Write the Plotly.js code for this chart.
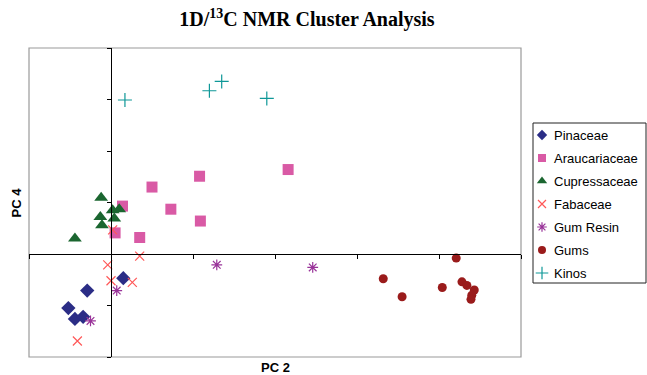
<!DOCTYPE html>
<html>
<head>
<meta charset="utf-8">
<script src="https://cdn.plot.ly/plotly-3.0.1.min.js"></script>
<style>html,body{margin:0;padding:0;background:#fff;}#chart{width:647px;height:375px;}</style>
</head>
<body>
<div id="chart"></div>
<script>
// PC 2 (x) and PC 4 (y) scores
const seriesNames = ["Pinaceae", "Araucariaceae", "Cupressaceae", "Fabaceae", "Gum Resin", "Gums", "Kinos"];

const pinaceaeX = [0.15, -0.29, -0.52, -0.44, -0.34];
const pinaceaeY = [-0.47, -0.71, -1.05, -1.26, -1.22];

const araucariaceaeX = [0.50, 1.08, 2.16, 0.14, 0.73, 1.09, 0.05, 0.35];
const araucariaceaeY = [1.30, 1.51, 1.64, 0.93, 0.87, 0.64, 0.41, 0.32];

const cupressaceaeX = [-0.12, 0.02, 0.10, -0.13, 0.04, -0.11, -0.44];
const cupressaceaeY = [1.09, 0.85, 0.87, 0.72, 0.69, 0.56, 0.30];

const fabaceaeX = [0.02, 0.35, -0.04, 0.00, 0.26, -0.41];
const fabaceaeY = [0.47, -0.04, -0.21, -0.52, -0.55, -1.69];

const gumResinX = [1.29, 2.46, 0.07, -0.25];
const gumResinY = [-0.21, -0.26, -0.71, -1.30];

const gumsX = [4.21, 3.32, 3.55, 4.04, 4.28, 4.34, 4.43, 4.40, 4.39];
const gumsY = [-0.08, -0.48, -0.83, -0.65, -0.54, -0.61, -0.70, -0.80, -0.88];

const kinosX = [0.17, 1.20, 1.35, 1.90];
const kinosY = [2.99, 3.17, 3.35, 3.02];

const xRange = [-1, 5];
const yRange = [-2, 4];

const styles = [
  {symbol: "diamond", color: "#2b2d86", size: 11, lsize: 8},
  {symbol: "square", color: "#d95aa5", size: 11, lsize: 8},
  {symbol: "triangle-up", color: "#1b6630", size: 12, lsize: 9},
  {symbol: "x-thin-open", color: "#ff5858", size: 9, lw: 1.2, lsize: 8},
  {symbol: "asterisk-open", color: "#993399", size: 9, lw: 1.2, lsize: 8},
  {symbol: "circle", color: "#9a1b1b", size: 9, lsize: 8},
  {symbol: "cross-thin-open", color: "#0f9898", size: 10, lw: 1.2, lsize: 9}
];
const xs = [pinaceaeX, araucariaceaeX, cupressaceaeX, fabaceaeX, gumResinX, gumsX, kinosX];
const ys = [pinaceaeY, araucariaceaeY, cupressaceaeY, fabaceaeY, gumResinY, gumsY, kinosY];

const W = 647, H = 375;
const mL = 29, mR = 0, mT = 48, mB = 18;
const pw = W - mL - mR, ph = H - mT - mB;
const plotRight = 521;
// legend box in pixels
const lgL = 533, lgR = 646, lgT = 123, lgB = 283;

const traces = [];
seriesNames.forEach((name, i) => {
  traces.push({
    type: "scatter", mode: "markers", name: name,
    x: xs[i], y: ys[i], showlegend: false, xaxis: "x", yaxis: "y",
    marker: {symbol: styles[i].symbol, color: styles[i].color, size: styles[i].size,
             line: {color: styles[i].color, width: styles[i].lw || 0}}
  });
});
// legend keys, drawn on a small pixel-scaled axis pair
const legendKeyX = 9, legendTextX = 19, legendRow0 = 12, legendRowStep = 23;
seriesNames.forEach((name, i) => {
  traces.push({
    type: "scatter", mode: "markers", name: name + " key",
    x: [legendKeyX], y: [legendRow0 + legendRowStep * i], showlegend: false, xaxis: "x2", yaxis: "y2",
    marker: {symbol: styles[i].symbol, color: styles[i].color, size: styles[i].lsize,
             line: {color: styles[i].color, width: styles[i].lw || 0}}
  });
});

const posX = (0 - xRange[0]) / (xRange[1] - xRange[0]) * ((plotRight - mL) / pw);
const posY = (0 - yRange[0]) / (yRange[1] - yRange[0]);

const font = {family: "Liberation Sans, Arial, sans-serif", size: 13, color: "#000"};

const annotations = [
  {text: "<b>PC 2</b>", xref: "paper", yref: "paper", x: ((mL + plotRight) / 2 - mL) / pw, y: -(367 - (H - mB)) / ph,
   yanchor: "middle", xanchor: "center", showarrow: false, font: font},
  {text: "<b>PC 4</b>", xref: "paper", yref: "paper", x: (16 - mL) / pw, y: 0.5, xanchor: "center", yanchor: "middle",
   textangle: -90, showarrow: false, font: font}
];
seriesNames.forEach((name, i) => {
  annotations.push({text: name, xref: "x2", yref: "y2", x: legendTextX, y: legendRow0 + legendRowStep * i,
    xanchor: "left", yanchor: "middle", showarrow: false,
    font: {family: "Liberation Sans, Arial, sans-serif", size: 13, color: "#000"}});
});

const layout = {
  width: W, height: H,
  margin: {l: mL, r: mR, t: mT, b: mB},
  paper_bgcolor: "#fff", plot_bgcolor: "rgba(0,0,0,0)",
  showlegend: false,
  title: {text: "<b>1D/<sup>13</sup>C NMR Cluster Analysis</b>", x: 307 / W, xanchor: "center",
          y: 1 - 19 / H, yanchor: "middle",
          font: {family: "Liberation Serif, Times New Roman, serif", size: 20, color: "#000"}},
  xaxis: {domain: [0, (plotRight - mL) / pw], range: xRange, dtick: 1, tick0: 0, showgrid: false, zeroline: false,
          showline: true, linecolor: "#000", linewidth: 1.3, anchor: "free", position: posY,
          ticks: "outside", ticklen: 4, tickcolor: "#000", tickwidth: 1, showticklabels: false, fixedrange: true},
  yaxis: {domain: [0, 1], range: yRange, dtick: 1, tick0: 0, showgrid: false, zeroline: false,
          showline: true, linecolor: "#000", linewidth: 1.3, anchor: "free", position: posX,
          ticks: "outside", ticklen: 4, tickcolor: "#000", tickwidth: 1, showticklabels: false, fixedrange: true},
  xaxis2: {domain: [(lgL - mL) / pw, (lgR - mL) / pw], range: [0, lgR - lgL], anchor: "y2",
           visible: false, fixedrange: true},
  yaxis2: {domain: [(H - mB - lgB) / ph, (H - mB - lgT) / ph], range: [lgB - lgT, 0], anchor: "x2",
           visible: false, fixedrange: true},
  shapes: [
    {type: "rect", xref: "x domain", yref: "y domain", x0: 0, x1: 1, y0: 0, y1: 1,
     line: {color: "#9a9a9a", width: 1.2}, layer: "below"},
    {type: "rect", xref: "x2 domain", yref: "y2 domain", x0: 0, x1: 1, y0: 0, y1: 1,
     line: {color: "#222", width: 1}, layer: "below"}
  ],
  annotations: annotations
};

Plotly.newPlot("chart", traces, layout, {displayModeBar: false, staticPlot: true});
</script>
</body>
</html>
